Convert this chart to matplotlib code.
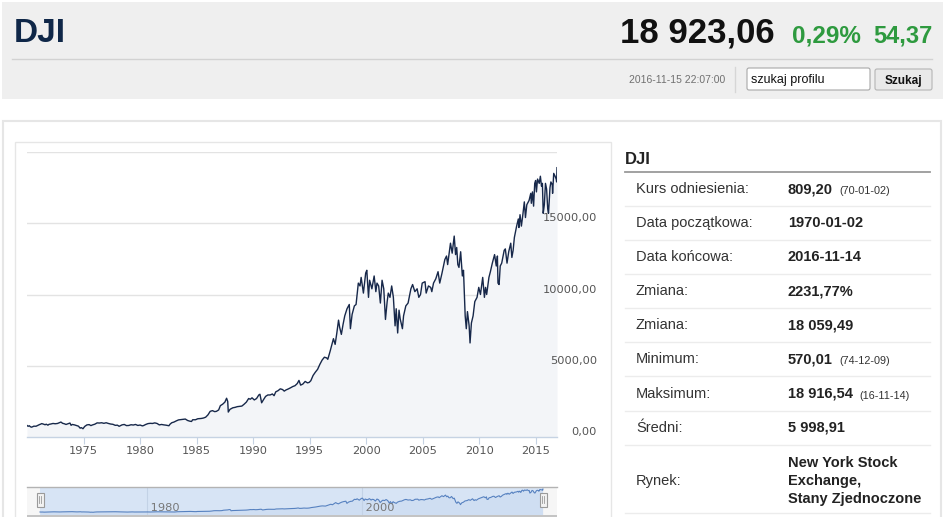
import matplotlib
matplotlib.use('Agg')
import matplotlib.pyplot as plt
from matplotlib.patches import Rectangle, FancyBboxPatch

# dane: notowania DJI (rok, wartość)
years = [
    1970.0, 1970.1, 1970.2, 1970.3, 1970.4, 1970.5, 1970.6, 1970.7, 1970.8, 1970.9,
    1971.0, 1971.1, 1971.2, 1971.3, 1971.45, 1971.6, 1971.7, 1971.85, 1971.95,
    1972.1, 1972.3, 1972.5, 1972.7, 1972.9, 1973.0,
    1973.15, 1973.3, 1973.45, 1973.6, 1973.8, 1973.9, 1974.0,
    1974.2, 1974.4, 1974.55, 1974.7, 1974.8, 1974.95,
    1975.1, 1975.3, 1975.5, 1975.65, 1975.8, 1976.0,
    1976.2, 1976.4, 1976.6, 1976.8, 1977.0,
    1977.2, 1977.4, 1977.6, 1977.8, 1978.0,
    1978.15, 1978.4, 1978.6, 1978.8, 1979.0,
    1979.2, 1979.4, 1979.6, 1979.8, 1980.0,
    1980.2, 1980.3, 1980.5, 1980.7, 1980.9,
    1981.1, 1981.3, 1981.5, 1981.7, 1981.9,
    1982.1, 1982.3, 1982.55, 1982.65, 1982.8, 1983.0,
    1983.2, 1983.4, 1983.6, 1983.8, 1984.0,
    1984.2, 1984.4, 1984.55, 1984.65, 1984.9,
    1985.1, 1985.4, 1985.6, 1985.8, 1986.0,
    1986.2, 1986.4, 1986.6, 1986.75, 1986.95,
    1987.1, 1987.3, 1987.5, 1987.65, 1987.75, 1987.8, 1987.95,
    1988.2, 1988.4, 1988.6, 1988.8, 1989.0,
    1989.2, 1989.4, 1989.6, 1989.75, 1989.9,
    1990.1, 1990.3, 1990.5, 1990.6, 1990.75, 1990.9,
    1991.1, 1991.3, 1991.5, 1991.7, 1991.85, 1992.0,
    1992.2, 1992.4, 1992.6, 1992.75, 1992.9,
    1993.1, 1993.3, 1993.5, 1993.7, 1993.9,
    1994.05, 1994.2, 1994.4, 1994.6, 1994.8, 1994.95,
    1995.1, 1995.3, 1995.5, 1995.7, 1995.9,
    1996.1, 1996.3, 1996.5, 1996.6, 1996.8, 1996.95,
    1997.1, 1997.25, 1997.4, 1997.55, 1997.65, 1997.8, 1997.95,
    1998.1, 1998.3, 1998.5, 1998.6, 1998.75, 1998.95,
    1999.1, 1999.3, 1999.45, 1999.55, 1999.75, 1999.95,
    2000.05, 2000.2, 2000.3, 2000.5, 2000.7, 2000.85, 2000.95,
    2001.1, 2001.25, 2001.4, 2001.55, 2001.7, 2001.85, 2001.95,
    2002.1, 2002.25, 2002.4, 2002.55, 2002.65, 2002.78, 2002.9, 2003.0,
    2003.2, 2003.3, 2003.5, 2003.7, 2003.95,
    2004.1, 2004.3, 2004.5, 2004.65, 2004.8, 2004.95,
    2005.2, 2005.3, 2005.5, 2005.7, 2005.8, 2005.95,
    2006.15, 2006.35, 2006.5, 2006.7, 2006.95,
    2007.1, 2007.2, 2007.45, 2007.6, 2007.78, 2007.9, 2008.0,
    2008.1, 2008.2, 2008.35, 2008.5, 2008.6, 2008.75, 2008.85, 2008.95,
    2009.1, 2009.18, 2009.3, 2009.45, 2009.6, 2009.8, 2009.95,
    2010.1, 2010.3, 2010.45, 2010.55, 2010.65, 2010.85, 2010.98,
    2011.15, 2011.35, 2011.5, 2011.6, 2011.65, 2011.75, 2011.85, 2011.98,
    2012.2, 2012.3, 2012.45, 2012.6, 2012.78, 2012.88, 2012.99,
    2013.1, 2013.3, 2013.45, 2013.5, 2013.6, 2013.72, 2013.85, 2013.98,
    2014.08, 2014.2, 2014.4, 2014.55, 2014.6, 2014.7, 2014.8, 2014.9, 2014.98,
    2015.05, 2015.15, 2015.3, 2015.4, 2015.5, 2015.58, 2015.65, 2015.75, 2015.85, 2015.95,
    2016.05, 2016.12, 2016.25, 2016.33, 2016.45, 2016.48, 2016.58, 2016.7, 2016.8, 2016.84, 2016.87,
]
values = [
    809, 750, 790, 720, 690, 720, 760, 760, 755, 795,
    840, 870, 900, 940, 905, 860, 900, 830, 890,
    910, 950, 930, 950, 1020, 1050,
    960, 930, 880, 920, 980, 820, 880,
    850, 800, 760, 620, 660, 580,
    740, 850, 870, 800, 850, 900,
    990, 980, 1000, 960, 1000,
    950, 910, 890, 820, 830,
    750, 850, 880, 800, 810,
    860, 840, 880, 810, 840,
    780, 800, 880, 940, 960,
    950, 990, 950, 850, 880,
    850, 830, 790, 900, 1000, 1050,
    1130, 1200, 1220, 1240, 1260,
    1160, 1110, 1090, 1210, 1210,
    1280, 1300, 1330, 1390, 1550,
    1800, 1850, 1780, 1800, 1900,
    2200, 2300, 2450, 2720, 2500, 1750, 1940,
    2050, 2080, 2130, 2150, 2170,
    2300, 2450, 2700, 2650, 2750,
    2600, 2700, 2950, 3000, 2400, 2600,
    2850, 2950, 2950, 3020, 2900, 3170,
    3250, 3380, 3330, 3220, 3300,
    3370, 3450, 3540, 3600, 3750,
    3970, 3640, 3720, 3900, 3800, 3830,
    3950, 4320, 4550, 4750, 5100,
    5400, 5600, 5550, 5450, 6000, 6450,
    6900, 6500, 7300, 8200, 7700, 7200, 7900,
    8500, 9000, 9300, 7600, 8600, 9200,
    9300, 10800, 10600, 11200, 10100, 11500,
    11700, 9800, 11000, 10400, 11300, 10200, 10800,
    10600, 9400, 11000, 10400, 8250, 9500, 10100,
    9800, 10600, 9800, 7800, 9000, 7300, 8900, 8300,
    7600, 8500, 9200, 9400, 10400,
    10700, 10200, 10400, 9800, 10000, 10800,
    10900, 10100, 10600, 10500, 10200, 10800,
    11100, 11600, 10800, 11500, 12450,
    12700, 12100, 13600, 12900, 14100, 12800, 13300,
    12100, 11900, 13000, 11300, 11700, 8500, 7600, 8800,
    7800, 6600, 8000, 8500, 9500, 9800, 10500,
    10000, 11200, 9800, 10500, 10000, 11200, 11600,
    12200, 12800, 12000, 12700, 10800, 10700, 12000, 12200,
    13100, 13200, 12200, 13000, 13600, 12600, 13100,
    14000, 14800, 15300, 14700, 15600, 14800, 15600, 16500,
    15400, 16300, 16600, 17100, 16400, 17200, 16200, 17800, 18000,
    17200, 18100, 17800, 18300, 17600, 17800, 15700, 16300, 17800, 17400,
    16000, 15700, 17500, 17900, 17700, 17100, 18500, 18300, 18100, 17900, 18900,
]

year_ticks = [1975, 1980, 1985, 1990, 1995, 2000, 2005, 2010, 2015]
value_ticks = [0, 5000, 10000, 15000, 20000]
nav_ticks = [1980, 2000]

title = 'DJI'
last_price = '18 923,06'
change_pct = '0,29%'
change_abs = '54,37'
stamp = '2016-11-15 22:07:00'

row_labels = ['Kurs odniesienia:', 'Data początkowa:', 'Data końcowa:', 'Zmiana:',
              'Zmiana:', 'Minimum:', 'Maksimum:', 'Średni:']
row_values = ['809,20', '1970-01-02', '2016-11-14', '2231,77%',
              '18 059,49', '570,01', '18 916,54', '5 998,91']
row_notes = ['(70-01-02)', '', '', '', '', '(74-12-09)', '(16-11-14)', '']
market_label = 'Rynek:'
market_value = ['New York Stock', 'Exchange,', 'Stany Zjednoczone']

W, H = 945, 517
fig = plt.figure(figsize=(W / 100, H / 100), dpi=100)
fig.patch.set_facecolor('white')

# warstwa strony w pikselach
page = fig.add_axes([0, 0, 1, 1], zorder=0)
page.set_xlim(0, W)
page.set_ylim(H, 0)
page.axis('off')

arial = ['Liberation Sans', 'DejaVu Sans']

# nagłówek
page.add_patch(Rectangle((2, 2), 941, 97, facecolor='#efefef', edgecolor='none'))
page.plot([12, 932], [58.5, 58.5], color='#d2d2d2', lw=1)
page.text(14, 42, title, family=arial, fontsize=24, fontweight='bold', color='#0f2748')
page.text(775, 42, last_price, family=arial, fontsize=25, fontweight='bold', color='#111111', ha='right')
page.text(792, 42, change_pct, family=arial, fontsize=17.5, fontweight='bold', color='#2e9a3f')
page.text(932, 42, change_abs, family=arial, fontsize=17, fontweight='bold', color='#2e9a3f', ha='right')
page.text(725, 83, stamp, family=arial, fontsize=7.5, color='#707070', ha='right')
page.plot([735, 735], [67, 92], color='#d6d6d6', lw=1)
page.add_patch(FancyBboxPatch((747, 68), 123, 22, boxstyle='round,pad=0,rounding_size=2',
                              facecolor='white', edgecolor='#a8a8a8', lw=0.8))
page.text(751, 83, 'szukaj profilu', family=arial, fontsize=9, color='#111111')
page.add_patch(FancyBboxPatch((875, 69), 57, 21, boxstyle='round,pad=0,rounding_size=2',
                              facecolor='#e9e9e9', edgecolor='#b5b5b5', lw=0.8))
page.text(903.5, 84, 'Szukaj', family=arial, fontsize=8.5, fontweight='bold', color='#111111', ha='center')

# panele
page.add_patch(Rectangle((3, 121), 938, 420, facecolor='white', edgecolor='#e6e6e6', lw=1.5))
page.add_patch(Rectangle((15, 142), 596, 400, facecolor='white', edgecolor='#e6e6e6', lw=1))

# tabela
page.text(625, 164, title, family=arial, fontsize=12, fontweight='bold', color='#222222')
page.plot([625, 930], [172, 172], color='#9a9a9a', lw=1.3)
row_centers = [188, 222, 256, 290, 324, 358, 393, 427]
for i, c in enumerate(row_centers):
    page.text(636, c + 5, row_labels[i], family=arial, fontsize=10.5, color='#333333')
    t = page.text(788, c + 5, row_values[i], family=arial, fontsize=10.5, fontweight='bold', color='#222222')
    if row_notes[i]:
        page.annotate(row_notes[i], xy=(1, 0), xycoords=t, xytext=(4.5, 0), textcoords='offset points',
                      family=arial, fontsize=7.8, color='#333333', va='bottom')
    page.plot([625, 930], [c + 18, c + 18], color='#ececec', lw=1)
page.text(636, 485, market_label, family=arial, fontsize=10.5, color='#333333')
for j, line in enumerate(market_value):
    page.text(788, 467 + 18 * j, line, family=arial, fontsize=10.5, fontweight='bold', color='#222222')
page.plot([625, 930], [513, 513], color='#ececec', lw=1)

# wykres główny
x0, x1 = 27, 557
ax = fig.add_axes([x0 / W, (H - 437) / H, (x1 - x0) / W, (437 - 152) / H], zorder=2)
ax.set_facecolor('none')
ax.fill_between(years, values, 0, color='#f3f5f8', lw=0)
ax.plot(years, values, color='#17284a', lw=1.0)
ax.set_xlim(1970.0, 2016.87)
ax.set_ylim(0, 20000)
for v in value_ticks[1:]:
    ax.axhline(v, color='#e3e3e3', lw=1, zorder=0)
ax.set_yticks([])
ax.set_xticks(year_ticks)
ax.set_xticklabels([str(y) for y in year_ticks])
ax.tick_params(axis='x', length=5, width=0.8, color='#c6d3e3', pad=1.5, labelsize=8.2, labelcolor='#555555')
for s in ['top', 'right', 'left']:
    ax.spines[s].set_visible(False)
ax.spines['bottom'].set_color('#c6d3e3')
ax.spines['bottom'].set_linewidth(1)
for v in value_ticks[:-1]:
    lbl = f'{v},00'
    ax.annotate(lbl, xy=((597 - x0) / (x1 - x0), v), xycoords=('axes fraction', 'data'),
                xytext=(0, 3.6), textcoords='offset points', ha='right', va='center',
                fontsize=8.2, color='#555555', annotation_clip=False)

# nawigator
nav = fig.add_axes([x0 / W, 0, (x1 - x0) / W, (H - 487) / H], zorder=2)
nav.set_facecolor('#f6f6f6')
px_per_year = (543 - 40) / (2016.87 - 1970.0)
nav.set_xlim(1970.0 - 13 / px_per_year, 2016.87 + 14 / px_per_year)
nav.set_ylim(-3135, 20474)
nav.axvspan(1970.0, 2016.87, color='#d7e4f5', lw=0)
for y in nav_ticks:
    nav.axvline(y, color='#c3d2e6', lw=0.8)
    nav.text(y, 0.30, f' {y}', transform=nav.get_xaxis_transform(), fontsize=8.2,
             color='#777777', ha='left', va='center')
nav.fill_between(years, values, -3135, color='#4a78bb', alpha=0.05, lw=0)
nav.plot(years, values, color='#5681c0', lw=0.8)
nav.set_xticks([])
nav.set_yticks([])
for s in ['right', 'left', 'bottom']:
    nav.spines[s].set_visible(False)
nav.spines['top'].set_color('#b3b3b3')
nav.spines['top'].set_linewidth(1)

# uchwyty nawigatora i pasek przewijania
over = fig.add_axes([0, 0, 1, 1], zorder=3)
over.set_xlim(0, W)
over.set_ylim(H, 0)
over.axis('off')
over.add_patch(Rectangle((27, 515), 530, 3, facecolor='#c4c4c4', edgecolor='none'))
for hx in [36.5, 539.5]:
    over.add_patch(Rectangle((hx, 492.5), 7, 14, facecolor='#f2f2f2', edgecolor='#9a9a9a', lw=0.8))
    over.plot([hx + 2.7, hx + 2.7], [496, 503], color='#9a9a9a', lw=0.6)
    over.plot([hx + 4.3, hx + 4.3], [496, 503], color='#9a9a9a', lw=0.6)

fig.savefig('out.png', dpi=100, facecolor='white')
